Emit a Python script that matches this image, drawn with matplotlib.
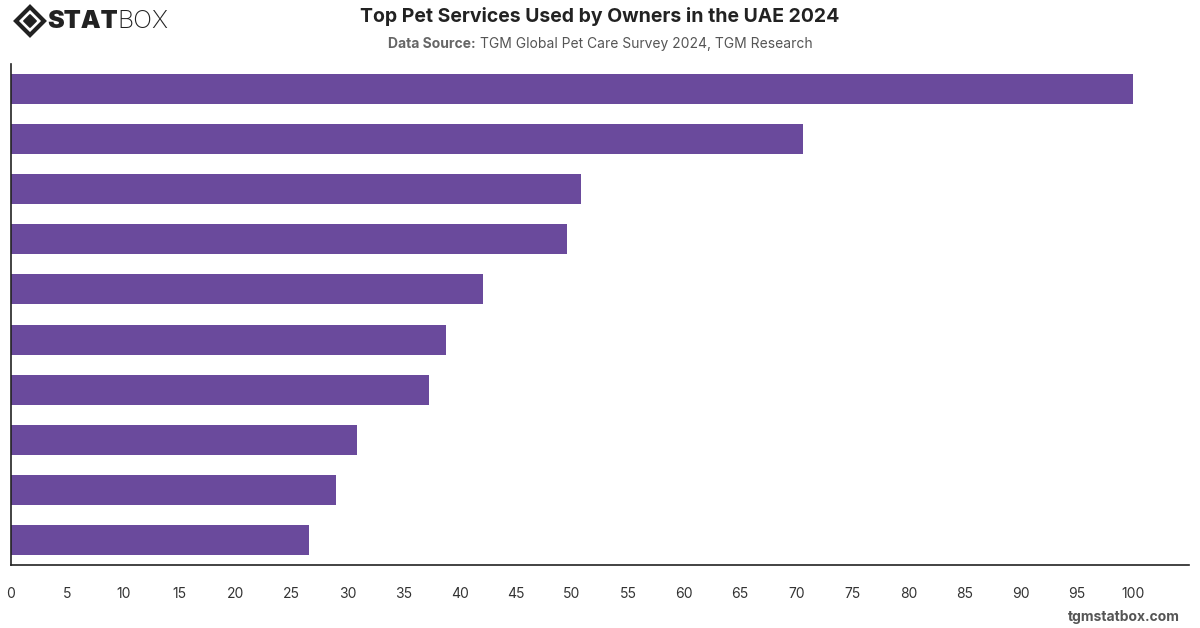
import matplotlib
matplotlib.use("Agg")
import matplotlib.pyplot as plt
from matplotlib.patches import Polygon

# Datos (categorías sin etiqueta visible en el gráfico original)
categorias = ["S1", "S2", "S3", "S4", "S5", "S6", "S7", "S8", "S9", "S10"]
valores = [100, 70.6, 50.8, 49.6, 42.1, 38.8, 37.3, 30.8, 29.0, 26.6]
ticks_x = list(range(0, 101, 5))

color_barra = "#6a4a9c"
plt.rcParams['font.family'] = ['Inter', 'DejaVu Sans']

fig = plt.figure(figsize=(12, 6.28), dpi=100)
ax = fig.add_axes([11 / 1200, 1 - 565 / 628, 1178 / 1200, 501 / 628])

y = list(range(len(categorias)))
ax.barh(y, valores, height=0.6, color=color_barra)
ax.set_ylim(len(categorias) - 0.5, -0.5)
ax.set_xlim(0, 105)
ax.set_xticks(ticks_x)
ax.set_xticklabels([str(t) for t in ticks_x], fontsize=10, color="#333333")
ax.tick_params(axis="x", length=0, pad=16)
ax.set_yticks([])
for s in ["top", "right"]:
    ax.spines[s].set_visible(False)
for s in ["left", "bottom"]:
    ax.spines[s].set_color("#222222")
    ax.spines[s].set_linewidth(1.2)

renderer = fig.canvas.get_renderer()

# Título y fuente
fig.text(0.5, 1 - 17 / 628, "Top Pet Services Used by Owners in the UAE 2024",
         ha="center", va="center", fontsize=14, fontweight="bold", color="#222222")

t1 = fig.text(0, 1 - 44 / 628, "Data Source:", ha="left", va="center",
              fontsize=10, fontweight="bold", color="#666666")
t2 = fig.text(0, 1 - 44 / 628, "TGM Global Pet Care Survey 2024, TGM Research",
              ha="left", va="center", fontsize=10, color="#555555")
w1 = t1.get_window_extent(renderer).width / 1200
w2 = t2.get_window_extent(renderer).width / 1200
hueco = 4 / 1200
x0 = 0.5 - (w1 + hueco + w2) / 2
t1.set_x(x0)
t2.set_x(x0 + w1 + hueco)

fig.text(1180 / 1200, 1 - 617 / 628, "tgmstatbox.com", ha="right", va="center",
         fontsize=10, fontweight="bold", color="#555555")

# Logo
cx, cy = 30 / 1200, 1 - 21 / 628
dx, dy = 14 / 1200, 14 / 628
fig.patches.append(Polygon([[cx - dx, cy], [cx, cy + dy], [cx + dx, cy], [cx, cy - dy]],
                           closed=True, fill=False, lw=3, ec="#222222",
                           transform=fig.transFigure))
fig.patches.append(Polygon([[cx - dx * 0.45, cy], [cx, cy + dy * 0.45], [cx + dx * 0.45, cy], [cx, cy - dy * 0.45]],
                           closed=True, color="#222222", transform=fig.transFigure))
ts = fig.text(47 / 1200, cy, "STAT", ha="left", va="center", fontsize=18,
              fontweight="black", color="#222222")
ws = ts.get_window_extent(renderer).width / 1200
fig.text(47 / 1200 + ws, cy, "BOX", ha="left", va="center", fontsize=18,
         fontweight="light", color="#222222")

fig.savefig("out.png", dpi=100)
